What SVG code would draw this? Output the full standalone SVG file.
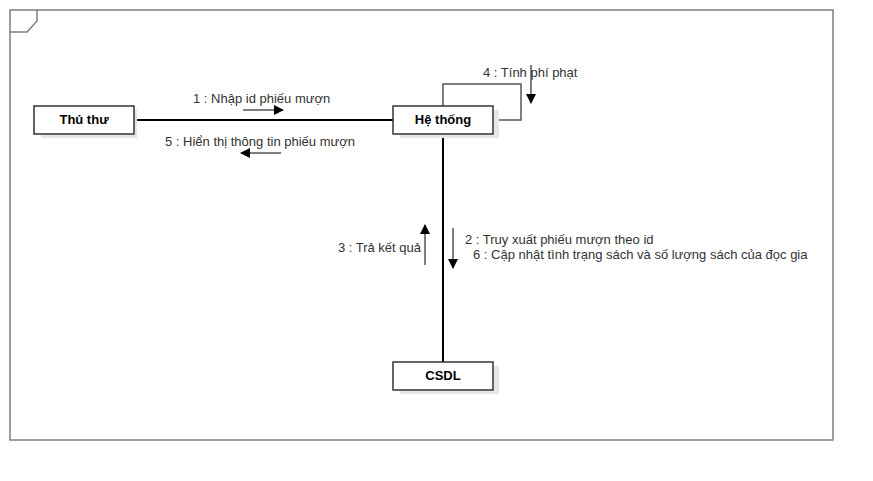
<svg xmlns="http://www.w3.org/2000/svg" width="873" height="481" viewBox="0 0 873 481">
<style>
.frame{fill:none;stroke:#7f7f7f;stroke-width:1.5}
.box{fill:#fff;stroke:#333;stroke-width:1.5}
.shadow{fill:#e6e6e6}
.lbl{font-family:"Liberation Sans",Arial,sans-serif;font-size:13px;fill:#333}
.name{font-family:"Liberation Sans",Arial,sans-serif;font-size:13px;font-weight:bold;fill:#000;text-anchor:middle}
.link{fill:none;stroke:#000;stroke-width:2}
.msg{fill:none;stroke:#555;stroke-width:1.5}
</style>
<defs>
<marker id="ah" viewBox="0 0 10 10" refX="9" refY="5" markerWidth="10" markerHeight="10" markerUnits="userSpaceOnUse" orient="auto">
<path d="M0,0 L10,5 L0,10 z" fill="#000"/>
</marker>
</defs>
<rect width="873" height="481" fill="#fff"/>
<g id="frame">
<rect class="frame" x="10" y="10" width="823" height="430"/>
<path class="frame" d="M10,32 L27,32 L37,21 L37,10"/>
</g>
<g id="connectors">
<line class="link" x1="134" y1="120" x2="393" y2="120"/>
<line class="link" x1="443" y1="134" x2="443" y2="362"/>
<path d="M443,106 L443,84 L521,84 L521,120 L493,120" fill="none" stroke="#555" stroke-width="1.5"/>
<line class="msg" x1="243" y1="110" x2="283" y2="110" marker-end="url(#ah)"/>
<line class="msg" x1="281" y1="153" x2="241" y2="153" marker-end="url(#ah)"/>
<line class="msg" x1="531" y1="65" x2="531" y2="103" marker-end="url(#ah)"/>
<line class="msg" x1="425" y1="265" x2="425" y2="225" marker-end="url(#ah)"/>
<line class="msg" x1="453" y1="228" x2="453" y2="268" marker-end="url(#ah)"/>
<text class="lbl" x="193" y="103">1 : Nhập id phiếu mượn</text>
<text class="lbl" x="165" y="146">5 : Hiển thị thông tin phiếu mượn</text>
<text class="lbl" x="483" y="77">4 : Tính phí phạt</text>
<text class="lbl" x="421" y="252" text-anchor="end">3 : Trả kết quả</text>
<text class="lbl" x="465" y="244">2 : Truy xuất phiếu mượn theo id</text>
<text class="lbl" x="473" y="259">6 : Cập nhật tình trạng sách và số lượng sách của đọc gia</text>
</g>
<g id="thu-thu">
<rect class="shadow" x="41" y="110" width="96" height="28"/>
<rect class="box" x="34" y="106" width="100" height="28"/>
<text class="name" x="84" y="124">Thủ thư</text>
</g>
<g id="he-thong">
<rect class="shadow" x="400" y="110" width="99" height="28"/>
<rect class="box" x="393" y="106" width="100" height="28"/>
<text class="name" x="443" y="124">Hệ thống</text>
</g>
<g id="csdl">
<rect class="shadow" x="400" y="366" width="99" height="28"/>
<rect class="box" x="393" y="362" width="100" height="28"/>
<text class="name" x="443" y="380">CSDL</text>
</g>
</svg>
